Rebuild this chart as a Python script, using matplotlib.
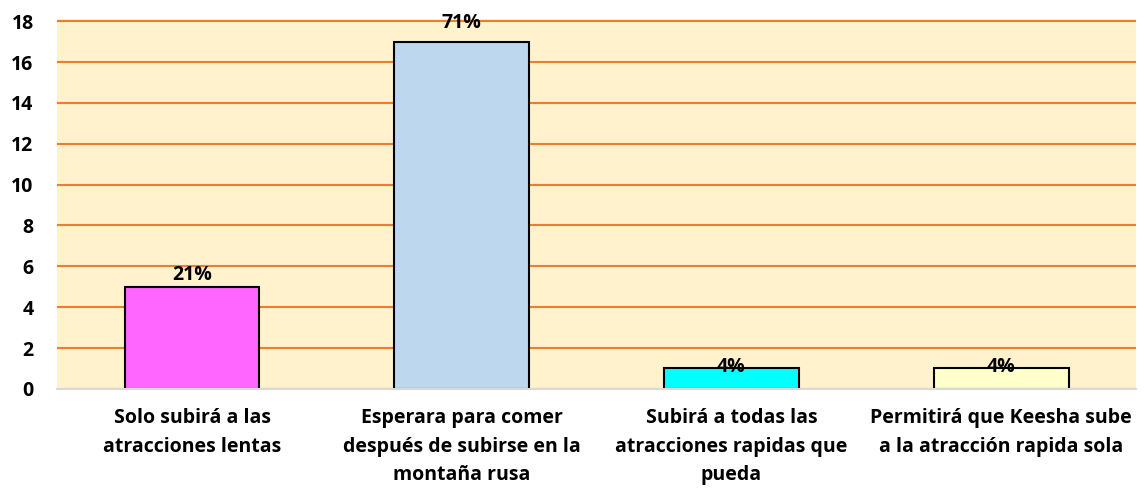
import matplotlib
matplotlib.use("Agg")
import matplotlib.pyplot as plt

# datos
categorias = [
    "Solo subirá a las\natracciones lentas",
    "Esperara para comer\ndespués de subirse en la\nmontaña rusa",
    "Subirá a todas las\natracciones rapidas que\npueda",
    "Permitirá que Keesha sube\na la atracción rapida sola",
]
valores = [5, 17, 1, 1]
etiquetas = ["21%", "71%", "4%", "4%"]
colores = ["#FF66FF", "#BDD7EE", "#00FFFF", "#FFFFCC"]
yticks = [0, 2, 4, 6, 8, 10, 12, 14, 16, 18]

plt.rcParams["font.family"] = ["Open Sans", "DejaVu Sans"]

fig = plt.figure(figsize=(11.44, 4.91), dpi=100)
ax = fig.add_axes([0.050, 0.208, 0.943, 0.753])
ax.set_facecolor("#FFF2CC")

x = range(len(valores))
bars = ax.bar(x, valores, width=0.5, color=colores, edgecolor="black", linewidth=1.5, zorder=3)

ax.set_xlim(-0.5, len(valores) - 0.5)
ax.set_ylim(0, 18.1)
ax.set_yticks(yticks)
ax.set_yticklabels([str(t) for t in yticks], fontsize=14, fontweight="bold")
ax.set_xticks(list(x))
ax.set_xticklabels(categorias, fontsize=14, fontweight="bold", linespacing=1.55)
ax.tick_params(axis="both", length=0)
ax.tick_params(axis="x", pad=14)
ax.tick_params(axis="y", pad=17)

ax.grid(axis="y", color="#ED7D31", linewidth=1.5, zorder=1)
for s in ["top", "right", "left"]:
    ax.spines[s].set_visible(False)
ax.spines["bottom"].set_color("#D9D9D9")
ax.spines["bottom"].set_linewidth(1.5)
ax.spines["bottom"].set_zorder(4)

# desplazamiento de etiquetas (puntos)
offsets = [4.5, 10, -2.5, -2.5]
for bar, txt, off in zip(bars, etiquetas, offsets):
    ax.annotate(txt, (bar.get_x() + bar.get_width() / 2, bar.get_height()),
                xytext=(0, off), textcoords="offset points",
                ha="center", va="baseline", fontsize=14, fontweight="bold", zorder=5)

fig.savefig("out.png", dpi=100)
